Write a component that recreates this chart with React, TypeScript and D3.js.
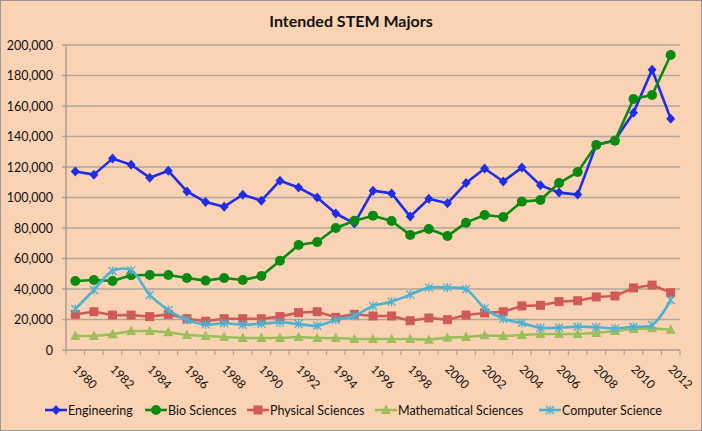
import React, { useEffect, useRef } from "react";
import * as d3 from "d3";

const years = d3.range(1980, 2013).map(String);
const yTicks = [0, 20000, 40000, 60000, 80000, 100000, 120000, 140000, 160000, 180000, 200000];
const labelYears = years.filter((y, i) => i % 2 === 0);

const engineering = [
  117000, 115000, 125500, 121500, 113000, 117500, 104000, 97000, 94000, 101800, 97900, 111000, 106500,
  100000, 89500, 83000, 104500, 102700, 87500, 99200, 96200, 109500, 119000, 110500, 119600, 108000,
  103200, 101900, 134500, 137500, 155600, 183800, 151700,
];
const bioSciences = [
  45200, 45900, 45200, 49000, 49200, 49200, 47200, 45500, 47200, 45900, 48500, 58500, 68800, 70800, 80000,
  84800, 88100, 84600, 75400, 79300, 74700, 83500, 88500, 87200, 97300, 98400, 109500, 116700, 134500,
  137200, 164600, 167200, 193400,
];
const physicalSciences = [
  23400, 25100, 22900, 22900, 21900, 23400, 20500, 18800, 20500, 20500, 20500, 21900, 24500, 25100, 21400,
  23400, 22300, 22300, 19200, 21000, 19900, 22900, 24300, 25100, 28900, 29300, 31700, 32300, 34800, 35400,
  40700, 42600, 37600,
];
const mathSciences = [
  9200, 9200, 10300, 12500, 12500, 11600, 9800, 9200, 8500, 7900, 7900, 7900, 8500, 7900, 7900, 7200, 7200,
  7200, 7200, 6800, 8100, 8500, 9600, 9200, 9800, 10500, 10500, 10500, 11100, 12500, 13800, 14200, 13300,
];
const computerScience = [
  26900, 39300, 51800, 52200, 36100, 26200, 19700, 16800, 17500, 16600, 17200, 18100, 17000, 15900, 19700,
  22300, 28900, 31700, 36300, 40900, 40900, 39800, 27300, 20500, 17700, 14600, 14600, 15300, 14900, 14200,
  15300, 16400, 32800,
];

const seriesNames = ["Engineering", "Bio Sciences", "Physical Sciences", "Mathematical Sciences", "Computer Science"];
const seriesValues = [engineering, bioSciences, physicalSciences, mathSciences, computerScience];
const seriesColors = ["#1f2ee6", "#0b8a12", "#cf5a56", "#9cbf5c", "#4eb1cf"];
const seriesMarkers = ["diamond", "circle", "square", "triangle", "star"];

const FONT = "Lato, 'Open Sans', sans-serif";

const drawMarker = (g, type, x, y, color) => {
  if (type === "diamond") {
    g.append("path").attr("d", `M${x},${y - 5}L${x + 4.5},${y}L${x},${y + 5}L${x - 4.5},${y}Z`).attr("fill", color);
  } else if (type === "circle") {
    g.append("circle").attr("cx", x).attr("cy", y).attr("r", 5).attr("fill", color);
  } else if (type === "square") {
    g.append("rect").attr("x", x - 4.5).attr("y", y - 4.5).attr("width", 9).attr("height", 9).attr("fill", color);
  } else if (type === "triangle") {
    g.append("path").attr("d", `M${x},${y - 5.5}L${x + 5},${y + 4}L${x - 5},${y + 4}Z`).attr("fill", color);
  } else {
    g.append("path")
      .attr("d", `M${x - 4},${y - 4}L${x + 4},${y + 4}M${x - 4},${y + 4}L${x + 4},${y - 4}M${x},${y - 4.5}L${x},${y + 4.5}`)
      .attr("stroke", color)
      .attr("stroke-width", 1.3)
      .attr("fill", "none");
  }
};

const App = () => {
  const ref = useRef();
  const width = 702;
  const height = 431;

  useEffect(() => {
    const svg = d3.select(ref.current);
    svg.selectAll("*").remove();

    svg.append("rect").attr("x", 0.5).attr("y", 0.5).attr("width", width - 1).attr("height", height - 1)
      .attr("fill", "#fad3b4").attr("stroke", "#9c9794");

    const x = d3.scaleBand().domain(years).range([66, 680]).padding(0);
    const y = d3.scaleLinear().domain([0, 200000]).range([350, 45]);
    const cx = (d) => x(d) + x.bandwidth() / 2;

    // title
    svg.append("text").attr("x", 351).attr("y", 27).attr("text-anchor", "middle")
      .style("font-family", FONT).style("font-size", "16px").style("font-weight", "bold").attr("fill", "#111")
      .text("Intended STEM Majors");

    // grid + y labels
    yTicks.forEach((t) => {
      if (t > 0)
        svg.append("line").attr("x1", 62).attr("x2", 680).attr("y1", y(t)).attr("y2", y(t))
          .attr("stroke", "#b0a69d").attr("stroke-width", 1.5);
      svg.append("text").attr("x", 53).attr("y", y(t) + 4.5).attr("text-anchor", "end")
        .style("font-family", FONT).style("font-size", "12.5px").attr("fill", "#111")
        .text(d3.format(",")(t));
    });

    // axes
    svg.append("line").attr("x1", 66).attr("x2", 66).attr("y1", 45).attr("y2", 350).attr("stroke", "#a89f97").attr("stroke-width", 1.5);
    svg.append("line").attr("x1", 62).attr("x2", 680).attr("y1", 350).attr("y2", 350).attr("stroke", "#a89f97").attr("stroke-width", 1.5);
    years.concat(["end"]).forEach((d, i) => {
      const xx = 66 + i * x.bandwidth();
      svg.append("line").attr("x1", xx).attr("x2", xx).attr("y1", 350).attr("y2", 355).attr("stroke", "#a89f97").attr("stroke-width", 1.2);
    });
    labelYears.forEach((d) => {
      svg.append("text").attr("transform", `translate(${cx(d) - 3},370) rotate(45)`)
        .style("font-family", FONT).style("font-size", "12px").attr("fill", "#111").text(d);
    });

    // series
    seriesValues.forEach((vals, si) => {
      const line = d3.line().x((d, i) => cx(years[i])).y((d) => y(d));
      if (si === 4) line.curve(d3.curveCatmullRom);
      svg.append("path").datum(vals).attr("d", line).attr("fill", "none")
        .attr("stroke", seriesColors[si]).attr("stroke-width", 2.6).attr("stroke-linejoin", "round");
      const g = svg.append("g");
      vals.forEach((v, i) => drawMarker(g, seriesMarkers[si], cx(years[i]), y(v), seriesColors[si]));
    });

    // legend
    const legendX = [45, 145, 247, 375, 539];
    seriesNames.forEach((name, si) => {
      const lx = legendX[si];
      const ly = 410;
      svg.append("line").attr("x1", lx).attr("x2", lx + 22).attr("y1", ly).attr("y2", ly)
        .attr("stroke", seriesColors[si]).attr("stroke-width", 2.6);
      drawMarker(svg.append("g"), seriesMarkers[si], lx + 11, ly, seriesColors[si]);
      svg.append("text").attr("x", lx + 23).attr("y", ly + 4.5)
        .style("font-family", FONT).style("font-size", "12.5px").attr("fill", "#111").text(name);
    });
  }, []);

  return <svg ref={ref} width={width} height={height} style={{ position: "absolute", left: 0, top: 0 }}></svg>;
};

export default App;
